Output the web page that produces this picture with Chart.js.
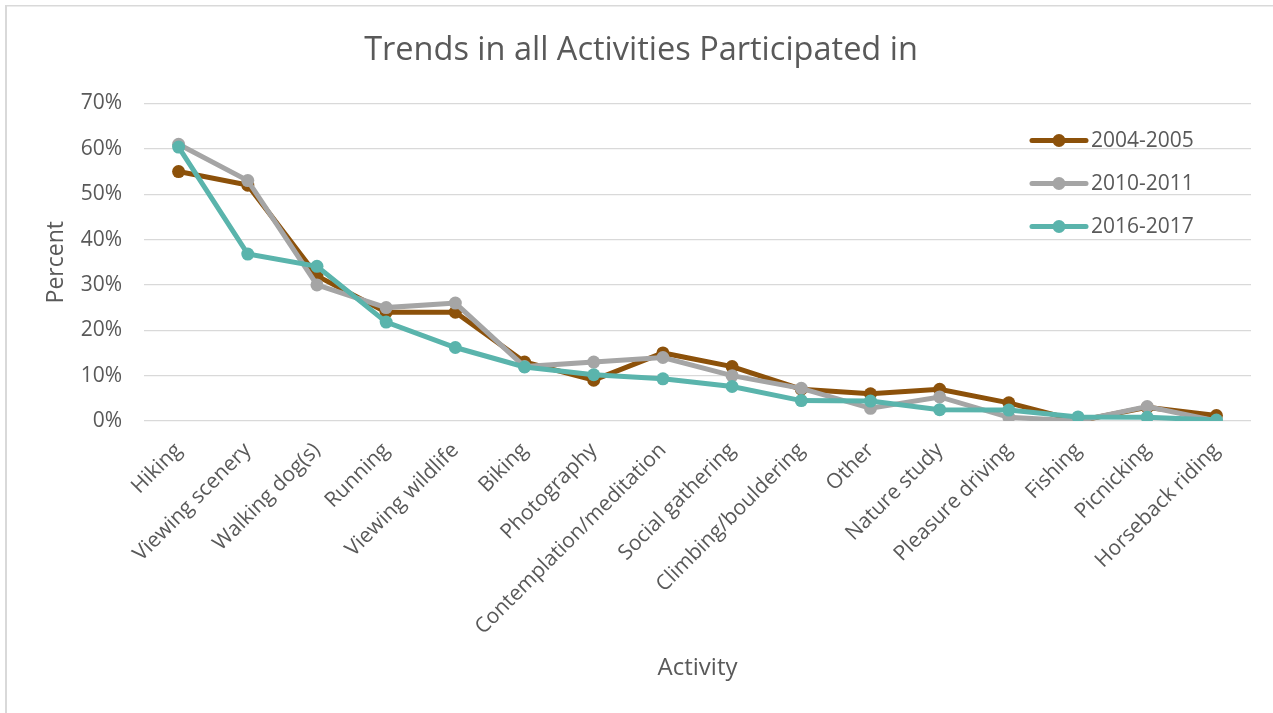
<!DOCTYPE html>
<html>
<head>
<meta charset="utf-8">
<title>Trends in all Activities Participated in</title>
<script src="https://cdn.jsdelivr.net/npm/chart.js@4.4.1/dist/chart.umd.min.js"></script>
<style>
  html, body { margin: 0; padding: 0; background: #ffffff; }
  #wrap { position: relative; width: 1273px; height: 713px; }
</style>
</head>
<body>
<div id="wrap"><canvas id="chart" width="1273" height="713"></canvas></div>
<script>
// Activities surveyed, in the order shown on the axis
const activities = [
  "Hiking", "Viewing scenery", "Walking dog(s)", "Running", "Viewing wildlife",
  "Biking", "Photography", "Contemplation/meditation", "Social gathering",
  "Climbing/bouldering", "Other", "Nature study", "Pleasure driving",
  "Fishing", "Picnicking", "Horseback riding"
];

// Share of respondents taking part in each activity (percent)
const survey2004 = [55, 52, 32, 24, 24, 13, 9, 15, 12, 7, 6, 7, 4, 0, 3, 1.2];
const survey2010 = [61, 53, 30, 25, 26, 12, 13, 14, 10, 7.2, 2.8, 5.3, 0.8, 0, 3.2, 0];
const survey2016 = [60.4, 36.8, 34.1, 21.8, 16.2, 11.9, 10.2, 9.3, 7.6, 4.5, 4.4, 2.5, 2.4, 0.9, 0.8, 0.2];

const seriesNames = ["2004-2005", "2010-2011", "2016-2017"];
const seriesColors = ["#8c510a", "#a5a5a5", "#5ab4ac"];

// Y axis range and ticks (percent)
const yMin = 0, yMax = 70, yStep = 10;

const textColor = "#595959";
const gridColor = "#d9d9d9";
const fontFamily = "'Open Sans', 'Liberation Sans', sans-serif";

function makeSeries(i, values, order) {
  return {
    label: seriesNames[i],
    data: values,
    borderColor: seriesColors[i],
    backgroundColor: seriesColors[i],
    pointBackgroundColor: seriesColors[i],
    pointBorderColor: seriesColors[i],
    borderWidth: 5,
    pointRadius: 6.5,
    pointBorderWidth: 0,
    tension: 0,
    fill: false,
    order: order
  };
}

// Outer frame of the chart
const framePlugin = {
  id: "frame",
  beforeDraw(chart) {
    const ctx = chart.ctx;
    ctx.save();
    ctx.fillStyle = "#ffffff";
    ctx.fillRect(0, 0, chart.width, chart.height);
    ctx.fillStyle = gridColor;
    ctx.fillRect(5, 5, 2, chart.height - 5);
    ctx.fillRect(5, 5, chart.width - 5, 1.5);
    ctx.restore();
  }
};

// Legend drawn inside the plot, top right, using each dataset's own style
const insideLegend = {
  id: "insideLegend",
  afterDraw(chart) {
    const ctx = chart.ctx;
    const area = chart.chartArea;
    const x0 = area.right - 219;
    const lineLen = 54;
    const firstY = area.top + 37;
    const gap = 43;
    ctx.save();
    chart.data.datasets.forEach((ds, i) => {
      const y = firstY + i * gap;
      ctx.strokeStyle = ds.borderColor;
      ctx.lineWidth = 5;
      ctx.lineCap = "round";
      ctx.beginPath();
      ctx.moveTo(x0, y);
      ctx.lineTo(x0 + lineLen, y);
      ctx.stroke();
      ctx.fillStyle = ds.pointBackgroundColor;
      ctx.beginPath();
      ctx.arc(x0 + lineLen / 2, y, 6.5, 0, Math.PI * 2);
      ctx.fill();
      ctx.fillStyle = textColor;
      ctx.font = "21px " + fontFamily;
      ctx.textAlign = "left";
      ctx.textBaseline = "middle";
      ctx.fillText(ds.label, x0 + lineLen + 5, y + 1);
    });
    ctx.restore();
  }
};

new Chart(document.getElementById("chart"), {
  type: "line",
  data: {
    labels: activities,
    datasets: [
      makeSeries(0, survey2004, 2),
      makeSeries(1, survey2010, 1),
      makeSeries(2, survey2016, 0)
    ]
  },
  plugins: [framePlugin, insideLegend],
  options: {
    responsive: false,
    animation: false,
    layout: { padding: { left: 31, right: 22, top: 0, bottom: 0 } },
    plugins: {
      legend: { display: false },
      tooltip: { enabled: false },
      title: {
        display: true,
        text: "Trends in all Activities Participated in",
        color: textColor,
        font: { family: fontFamily, size: 32.5, weight: "normal", lineHeight: 1.2 },
        padding: { top: 31, bottom: 33.5 }
      }
    },
    scales: {
      x: {
        type: "category",
        offset: true,
        grid: { display: false, drawTicks: false },
        border: { display: false },
        ticks: {
          color: textColor,
          font: { family: fontFamily, size: 21 },
          minRotation: 45,
          maxRotation: 45,
          autoSkip: false,
          padding: 17
        },
        title: {
          display: true,
          text: "Activity",
          color: textColor,
          font: { family: fontFamily, size: 24, lineHeight: 1.2 },
          padding: { top: 0, bottom: 30 }
        },
        afterFit(scale) { scale.height = 292; }
      },
      y: {
        min: yMin,
        max: yMax,
        grid: { color: gridColor, lineWidth: 1.3, drawTicks: false },
        border: { display: false },
        ticks: {
          stepSize: yStep,
          color: textColor,
          font: { family: fontFamily, size: 21 },
          padding: 22,
          callback: (v) => v + "%"
        },
        title: {
          display: true,
          text: "Percent",
          color: textColor,
          font: { family: fontFamily, size: 23, lineHeight: 1.2 },
          padding: { top: 12, bottom: 0 }
        },
        afterFit(scale) { scale.width = 113; }
      }
    }
  }
});
</script>
</body>
</html>
